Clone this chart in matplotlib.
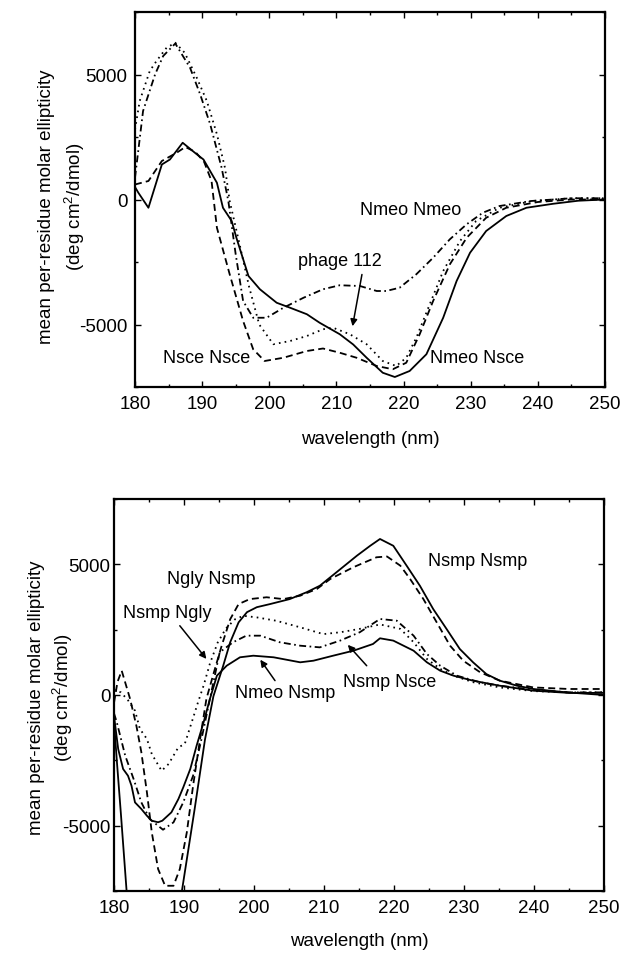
import matplotlib
matplotlib.use("Agg")
import matplotlib.pyplot as plt
from matplotlib.ticker import MultipleLocator

plt.rcParams["font.family"] = ["Liberation Sans", "DejaVu Sans"]
plt.rcParams["mathtext.fontset"] = "custom"
plt.rcParams["mathtext.rm"] = "Liberation Sans"
plt.rcParams["mathtext.default"] = "regular"
plt.rcParams["axes.unicode_minus"] = False
plt.rcParams["lines.scale_dashes"] = False

# ---------------- upper panel: CD spectra (deg cm^2/dmol) ----------------
nmeo_nsce_wl = [180, 180.5, 182, 184, 185.2, 187.1, 189.1, 190.2, 192.2, 193.1, 194.4, 195.1,
                196.9, 198.6, 201.1, 203.1, 205.6, 207.5, 210.5, 212.5, 214.5, 216.9, 218.7,
                220.9, 223.4, 225.9, 227.9, 229.9, 232.3, 235.3, 238.3, 242.3, 246, 250]
nmeo_nsce_val = [500, 270, -330, 1400, 1600, 2270, 1830, 1600, 670, -330, -860, -1530,
                 -3060, -3590, -4130, -4330, -4590, -4930, -5390, -5800, -6330, -6930, -7100,
                 -6860, -6190, -4730, -3260, -2130, -1260, -660, -330, -170, -50, 0]

nsce_nsce_wl = [180, 182, 184, 186.2, 187.5, 189, 190.3, 191.4, 192.2, 194.1, 196.1, 197.6,
                199.3, 202.1, 205.6, 208, 210.5, 213, 216, 218.4, 220.4, 222.4, 224.4, 226.9,
                229.4, 232.3, 235.3, 240, 245, 250]
nsce_nsce_val = [600, 740, 1540, 1870, 2100, 1900, 1500, 740, -1130, -2990, -4860, -5990,
                 -6460, -6330, -6060, -5960, -6130, -6330, -6660, -6790, -6530, -5390, -4060,
                 -2590, -1530, -730, -330, -100, 0, 0]

phage112_wl = [180, 180.7, 182.2, 183.2, 184.7, 186, 187.4, 189.2, 190.7, 192.2, 193.4, 194.1,
               195.5, 197, 198.5, 200.6, 203.1, 205.6, 208, 209.5, 212, 214.5, 216.9, 218.9,
               220.4, 221.9, 223.9, 225.9, 228.4, 230.8, 234.3, 239.2, 245, 250]
phage112_val = [2800, 3940, 5140, 5540, 6070, 6270, 5870, 4870, 3940, 2610, 1270, -60,
                -1700, -3500, -5000, -5790, -5660, -5460, -5190, -5130, -5390, -5790, -6460,
                -6660, -6330, -5530, -4190, -2860, -1660, -860, -330, -60, 50, 50]

nmeo_nmeo_wl = [180, 181.2, 183, 184.2, 186, 188.2, 189.7, 191.2, 192.9, 193.9, 195, 196.1,
                197.6, 199.6, 202.1, 205.1, 208, 210.5, 213.5, 216, 217.4, 219.4, 221.9, 224.4,
                226.9, 229.4, 231.8, 234.3, 239, 245, 250]
nmeo_nmeo_val = [870, 3540, 5010, 5740, 6240, 5270, 4210, 3010, 1270, -60, -2200, -4060,
                 -4730, -4730, -4330, -3930, -3590, -3430, -3460, -3660, -3660, -3530, -2990,
                 -2330, -1590, -990, -530, -260, -60, 50, 50]

# ---------------- lower panel ----------------
nsmp_nsmp_wl = [180, 180.4, 181, 181.8, 183.5, 185.7, 187.8, 189.7, 191.5, 193.0, 194.2, 195.6,
                196.6, 197.8, 199, 200.4, 202.3, 205.1, 207.5, 209.4, 211.8, 214.7, 216.6, 218,
                219.9, 221.8, 223.7, 225.6, 227.5, 229.4, 231.3, 233.2, 235.1, 237.5, 239.9,
                244.7, 250]
nsmp_nsmp_val = [-1000, -2500, -4600, -7500, -10500, -11500, -10500, -7500, -4400, -1700, -50,
                 1120, 2020, 2780, 3170, 3360, 3480, 3670, 3930, 4180, 4700, 5330, 5710, 5970,
                 5710, 4950, 4180, 3290, 2530, 1760, 1250, 800, 550, 360, 230, 100, 0]

ngly_nsmp_wl = [180, 180.5, 181.1, 182.3, 183.2, 183.9, 184.7, 185.4, 186.3, 187.3, 188.5, 189.4,
                190.4, 191.3, 192.3, 193.2, 194.2, 195.4, 196.6, 197.8, 199.4, 201.8, 204.2,
                206.6, 209, 210.9, 214.2, 217.5, 219, 220.9, 222.3, 224.2, 226.1, 228, 229.9,
                232.3, 235.1, 239.9, 245, 250]
ngly_nsmp_val = [-300, 500, 930, -150, -1180, -2180, -3720, -5260, -6660, -7300, -7300, -6660,
                 -5260, -3470, -1680, -150, 800, 1900, 2900, 3480, 3670, 3740, 3670, 3800, 4060,
                 4440, 4890, 5270, 5300, 4950, 4440, 3670, 2780, 1890, 1310, 870, 550, 290,
                 230, 230]

nsmp_ngly_wl = [180, 181, 182, 183, 183.7, 184.7, 185.4, 186.8, 187.8, 189.2, 190.1, 191.1, 192,
                192.8, 193.7, 194.8, 196, 197.3, 198.5, 200.4, 203.2, 206.6, 209.9, 212.3,
                215.1, 218, 220.9, 222.8, 224.7, 226.6, 228.5, 231.3, 235.1, 239.9, 245, 250]
nsmp_ngly_val = [200, 100, -200, -600, -1300, -1680, -2260, -2900, -2640, -2000, -1880, -1045,
                 -280, 360, 1200, 2000, 2550, 2900, 3030, 2970, 2840, 2590, 2330, 2400, 2530,
                 2700, 2530, 2020, 1380, 1000, 740, 490, 290, 150, 100, 100]

nsmp_nsce_wl = [180, 180.4, 181.6, 182.8, 183.9, 185.1, 187, 188.5, 189.9, 191.3, 192.5, 193.7,
                195.1, 197, 198.9, 200.9, 203.7, 206.6, 209.4, 212.3, 215.1, 218, 220.4, 222.8,
                224.7, 226.6, 229, 232.3, 235.1, 239.9, 245, 250]
nsmp_nsce_val = [-700, -1045, -2320, -3215, -4106, -4746, -5155, -4873, -4106, -3088, -1684,
                 -153, 1634, 2017, 2270, 2270, 2017, 1887, 1823, 2081, 2400, 2909, 2843, 2270,
                 1569, 1121, 739, 486, 356, 200, 100, 100]

nmeo_nsmp_wl = [180, 180.6, 181.3, 182, 182.5, 183, 183.9, 184.7, 185.4, 186.3, 186.9, 188.2,
                189.2, 189.9, 190.9, 191.8, 192.8, 193.7, 194.7, 196.1, 198, 199.9, 202.8, 206.6,
                208.5, 211.3, 214.2, 217, 218, 219.9, 222.8, 224.7, 226.6, 228.5, 231.3, 235.1,
                239.9, 245, 250]
nmeo_nsmp_val = [-800, -2070, -2830, -3090, -3470, -4110, -4360, -4620, -4810, -4870, -4810,
                 -4490, -3980, -3530, -2830, -1940, -1045, -153, 739, 1121, 1443, 1504, 1443,
                 1251, 1313, 1504, 1695, 1952, 2170, 2081, 1695, 1251, 930, 739, 547, 356, 165,
                 80, 80]

x_ticks = [180, 190, 200, 210, 220, 230, 240, 250]
y_ticks = [-5000, 0, 5000]

SOLID = "-"
DASHED = (0, (5, 3))
DOTTED = (0, (1.2, 3))
DASHDOT = (0, (5, 2.5, 1.2, 2.5))
LW = 1.3

W, H = 623, 954
fig = plt.figure(figsize=(W / 100, H / 100), dpi=100)


def px_axes(left, top, right, bottom):
    return fig.add_axes([left / W, 1 - bottom / H, (right - left) / W, (bottom - top) / H])


def style(ax, ypad):
    ax.set_xlim(180, 250)
    ax.set_ylim(-7500, 7500)
    ax.set_xticks(x_ticks)
    ax.set_yticks(y_ticks)
    ax.xaxis.set_minor_locator(MultipleLocator(5))
    ax.yaxis.set_minor_locator(MultipleLocator(2500))
    ax.tick_params(which="both", direction="in", top=True, right=True, width=1.0,
                   labelsize=13.5, colors="black")
    ax.tick_params(which="major", length=4.5)
    ax.tick_params(which="minor", length=2.5)
    ax.tick_params(axis="x", pad=6)
    ax.tick_params(axis="y", pad=ypad)
    for s in ax.spines.values():
        s.set_linewidth(1.6)


# upper panel
ax1 = px_axes(135, 13, 605, 388)
style(ax1, 5.5)
ax1.plot(nmeo_nsce_wl, nmeo_nsce_val, color="black", lw=LW, linestyle=SOLID)
ax1.plot(nsce_nsce_wl, nsce_nsce_val, color="black", lw=LW, linestyle=DASHED)
ax1.plot(phage112_wl, phage112_val, color="black", lw=LW, linestyle=DOTTED)
ax1.plot(nmeo_nmeo_wl, nmeo_nmeo_val, color="black", lw=LW, linestyle=DASHDOT)

ax1.text(221, -420, "Nmeo Nmeo", fontsize=13, ha="center", va="center")
ax1.text(210.5, -2460, "phage 112", fontsize=13, ha="center", va="center")
ax1.text(230.9, -6340, "Nmeo Nsce", fontsize=13, ha="center", va="center")
ax1.text(190.7, -6340, "Nsce Nsce", fontsize=13, ha="center", va="center")
arrow_kw = dict(arrowstyle="-|>", color="black", lw=1.1, mutation_scale=10,
                shrinkA=0, shrinkB=0)
ax1.annotate("", xy=(212.4, -5070), xytext=(213.8, -3000), arrowprops=arrow_kw)

# lower panel
ax2 = px_axes(114, 500, 604, 892)
style(ax2, 2.5)
ax2.plot(nsmp_nsmp_wl, nsmp_nsmp_val, color="black", lw=LW, linestyle=SOLID)
ax2.plot(ngly_nsmp_wl, ngly_nsmp_val, color="black", lw=LW, linestyle=DASHED)
ax2.plot(nsmp_ngly_wl, nsmp_ngly_val, color="black", lw=LW, linestyle=DOTTED)
ax2.plot(nsmp_nsce_wl, nsmp_nsce_val, color="black", lw=LW, linestyle=DASHDOT)
ax2.plot(nmeo_nsmp_wl, nmeo_nsmp_val, color="black", lw=LW, linestyle=SOLID)

ax2.text(231.9, 5130, "Nsmp Nsmp", fontsize=13, ha="center", va="center")
ax2.text(193.9, 4440, "Ngly Nsmp", fontsize=13, ha="center", va="center")
ax2.text(187.6, 3140, "Nsmp Ngly", fontsize=13, ha="center", va="center")
ax2.text(204.4, 80, "Nmeo Nsmp", fontsize=13, ha="center", va="center")
ax2.text(219.4, 520, "Nsmp Nsce", fontsize=13, ha="center", va="center")
ax2.annotate("", xy=(193.2, 1380), xytext=(189.4, 2650), arrowprops=arrow_kw)
ax2.annotate("", xy=(200.9, 1350), xytext=(203.0, 550), arrowprops=arrow_kw)
ax2.annotate("", xy=(213.4, 1920), xytext=(216.1, 1120), arrowprops=arrow_kw)

# axis titles
ylab1 = "mean per-residue molar ellipticity"
ylab2 = r"(deg cm$^{2}$/dmol)"
fig.text(47 / W, 1 - 207 / H, ylab1, rotation=90, ha="center", va="center", fontsize=13.5)
fig.text(75 / W, 1 - 207 / H, ylab2, rotation=90, ha="center", va="center", fontsize=13.5)
fig.text(370 / W, 1 - 440 / H, "wavelength (nm)", ha="center", va="center", fontsize=13.5)

fig.text(37 / W, 1 - 698 / H, ylab1, rotation=90, ha="center", va="center", fontsize=13.5)
fig.text(63 / W, 1 - 698 / H, ylab2, rotation=90, ha="center", va="center", fontsize=13.5)
fig.text(359 / W, 1 - 942 / H, "wavelength (nm)", ha="center", va="center", fontsize=13.5)

fig.savefig("out.png", dpi=100)
